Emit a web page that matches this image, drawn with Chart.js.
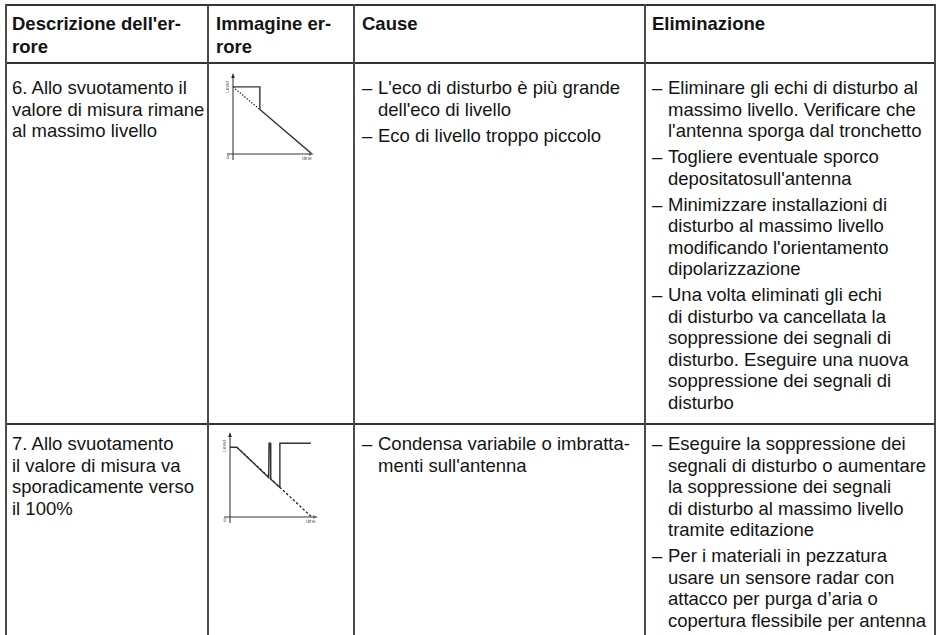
<!DOCTYPE html>
<html lang="it">
<head>
<meta charset="utf-8">
<title>Descrizione dell'errore</title>
<script src="https://cdn.jsdelivr.net/npm/chart.js@4.4.1/dist/chart.umd.min.js"></script>
<style>
  html, body { margin: 0; padding: 0; background: #fff; }
  body { width: 938px; height: 635px; overflow: hidden; position: relative;
         font-family: "Liberation Sans", Arial, Helvetica, sans-serif; color: #141414; }
  .hl { position: absolute; left: 5px; width: 931px; height: 2px; background: #333; }
  .vl { position: absolute; top: 4px; width: 2px; height: 640px; background: #4a4a4a; }
  .txt { position: absolute; font-size: 18.5px; line-height: 21.5px; white-space: nowrap; }
  .hd { font-weight: bold; line-height: 22.5px; top: 13px; }
  ul { margin: 0; padding: 0; list-style: none; }
  li { position: relative; padding-left: 16px; margin-bottom: 4.5px; }
  li::before { content: "\2013"; position: absolute; left: 0; }
  .mini { position: absolute; }
</style>
</head>
<body>
<div class="hl" style="top:4px"></div>
<div class="hl" style="top:62px"></div>
<div class="hl" style="top:423px"></div>
<div class="vl" style="left:5px"></div>
<div class="vl" style="left:207px"></div>
<div class="vl" style="left:353px"></div>
<div class="vl" style="left:644px"></div>
<div class="vl" style="left:934px"></div>

<div class="txt hd" style="left:12px">Descrizione dell'er-<br>rore</div>
<div class="txt hd" style="left:216px">Immagine er-<br>rore</div>
<div class="txt hd" style="left:362px">Cause</div>
<div class="txt hd" style="left:652px">Eliminazione</div>

<div class="txt" style="left:12px;top:77px">6. Allo svuotamento il<br>valore di misura rimane<br>al massimo livello</div>
<div class="txt" style="left:362px;top:77px"><ul>
  <li>L'eco di disturbo è più grande<br>dell'eco di livello</li>
  <li>Eco di livello troppo piccolo</li>
</ul></div>
<div class="txt" style="left:652px;top:77px"><ul>
  <li>Eliminare gli echi di disturbo al<br>massimo livello. Verificare che<br>l'antenna sporga dal tronchetto</li>
  <li>Togliere eventuale sporco<br>depositatosull'antenna</li>
  <li>Minimizzare installazioni di<br>disturbo al massimo livello<br>modificando l'orientamento<br>dipolarizzazione</li>
  <li>Una volta eliminati gli echi<br>di disturbo va cancellata la<br>soppressione dei segnali di<br>disturbo. Eseguire una nuova<br>soppressione dei segnali di<br>disturbo</li>
</ul></div>

<div class="txt" style="left:12px;top:433px">7. Allo svuotamento<br>il valore di misura va<br>sporadicamente verso<br>il 100%</div>
<div class="txt" style="left:362px;top:433px"><ul>
  <li>Condensa variabile o imbratta-<br>menti sull'antenna</li>
</ul></div>
<div class="txt" style="left:652px;top:433px"><ul>
  <li>Eseguire la soppressione dei<br>segnali di disturbo o aumentare<br>la soppressione dei segnali<br>di disturbo al massimo livello<br>tramite editazione</li>
  <li>Per i materiali in pezzatura<br>usare un sensore radar con<br>attacco per purga d’aria o<br>copertura flessibile per antenna</li>
</ul></div>

<div class="mini" style="left:218px;top:66px;width:104px;height:100px"><canvas id="err6"></canvas></div>
<div class="mini" style="left:216px;top:426px;width:106px;height:102px"><canvas id="err7"></canvas></div>

<script>
// fault 6: reading stays at max level while emptying
const time6Shown = [0, 34, 34, 100];
const level6Shown = [86, 86, 57, 0];
const time6Real = [0, 34];
const level6Real = [86, 57];

// fault 7: reading jumps sporadically to 100%
const time7Shown = [0, 8, 45, 45.4, 47, 47.4, 58, 58, 94];
const level7Shown = [85, 85, 48, 90, 90, 46, 36, 90, 90];
const time7Real = [8, 95];
const level7Real = [85, 0];

const axisLabels = { y: "Level", x: "time", origin: "0" };

function pts(xs, ys) { return xs.map((x, i) => ({ x, y: ys[i] })); }

// axes with arrow heads, drawn from the chart's own scales
const axesPlugin = {
  id: "axes",
  afterDatasetsDraw(chart) {
    const { ctx, scales: { x, y } } = chart;
    const x0 = x.getPixelForValue(0), y0 = y.getPixelForValue(0);
    const top = y.getPixelForValue(y.max), right = x.getPixelForValue(x.max);
    ctx.save();
    ctx.strokeStyle = "#7a7a7a"; ctx.lineWidth = 1.6;
    ctx.beginPath(); ctx.moveTo(x0 - 6, y0); ctx.lineTo(right, y0); ctx.stroke();
    ctx.strokeStyle = "#2a2a2a"; ctx.lineWidth = 1;
    ctx.beginPath(); ctx.moveTo(x0, y0 + 6); ctx.lineTo(x0, top - 1); ctx.stroke();
    ctx.fillStyle = "#2a2a2a";
    ctx.beginPath(); ctx.moveTo(x0, top - 3); ctx.lineTo(x0 - 1.8, top + 2); ctx.lineTo(x0 + 1.8, top + 2); ctx.fill();
    ctx.fillStyle = "#666";
    ctx.beginPath(); ctx.moveTo(right + 2, y0); ctx.lineTo(right - 3, y0 - 1.8); ctx.lineTo(right - 3, y0 + 1.8); ctx.fill();
    ctx.font = "5px 'Liberation Sans', Arial";
    ctx.fillStyle = "#555";
    ctx.textBaseline = "middle";
    ctx.textAlign = "center";
    ctx.fillText(axisLabels.origin, x0 - 5, y0 + 4);
    ctx.fillText(axisLabels.x, right - 5, y0 + 5);
    ctx.translate(x0 - 5, top + 11);
    ctx.rotate(-Math.PI / 2);
    ctx.fillText(axisLabels.y, 0, 0);
    ctx.restore();
  },
};

function mini(id, shown, real, dash, pad, xMax) {
  new Chart(document.getElementById(id), {
    type: "scatter",
    data: {
      datasets: [
        { data: shown, showLine: true, borderColor: "#333", borderWidth: 1.4, pointRadius: 0, tension: 0 },
        { data: real, showLine: true, borderColor: "#111", borderWidth: 1.2, borderDash: dash, pointRadius: 0, tension: 0 },
      ],
    },
    options: {
      responsive: true,
      maintainAspectRatio: false,
      animation: false,
      layout: { padding: pad },
      plugins: { legend: { display: false }, tooltip: { enabled: false } },
      scales: {
        x: { type: "linear", min: 0, max: xMax, display: false },
        y: { type: "linear", min: 0, max: 100, display: false },
      },
    },
    plugins: [axesPlugin],
  });
}

mini("err6", pts(time6Shown, level6Shown), pts(time6Real, level6Real), [1.3, 1.7],
  { left: 15, right: 10, top: 10, bottom: 12 }, 100);
mini("err7", pts(time7Shown, level7Shown), pts(time7Real, level7Real), [2.5, 2],
  { left: 14, right: 6, top: 9, bottom: 11 }, 100);
</script>
</body>
</html>
